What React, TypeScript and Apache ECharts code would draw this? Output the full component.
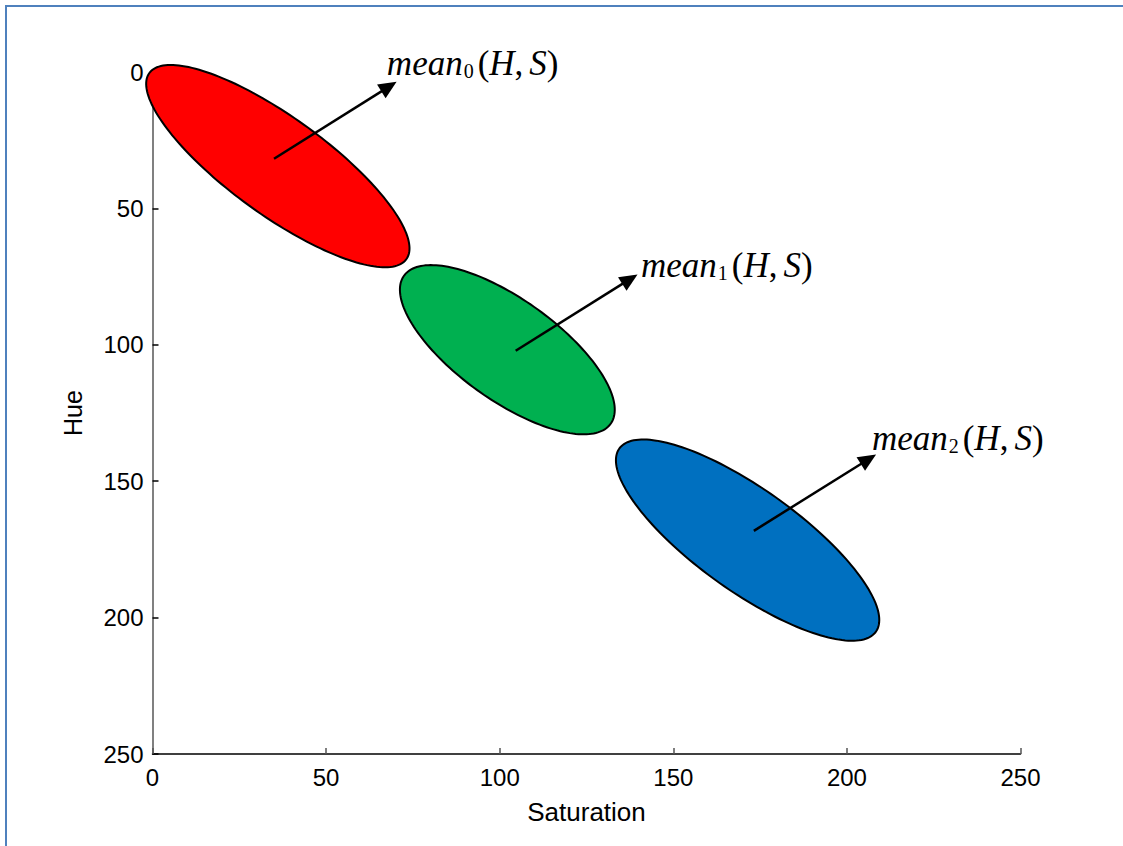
import React, { useEffect, useRef } from "react";
import * as echarts from "echarts";

// Saturation / Hue tick values
const satTicks = [0, 50, 100, 150, 200, 250];
const hueTicks = [0, 50, 100, 150, 200, 250];

// Cluster ellipses (data units: S = saturation, H = hue)
const clusterSub = ["0", "1", "2"];
const clusterColor = ["#FF0000", "#00B050", "#0070C0"];
const meanS = [36.1, 102.2, 171.4];
const meanH = [34.5, 101.8, 171.6];
const majorSemi = [50.5, 40.5, 50.1];
const minorSemi = [16.2, 16.7, 17.0];
const tiltDeg = [44.2, 45.1, 44.0];

// Arrows from each mean to its label
const arrowTailS = [35.0, 104.6, 173.2];
const arrowTailH = [31.8, 102.2, 168.2];
const arrowTipS = [70.3, 139.7, 208.4];
const arrowTipH = [3.6, 74.2, 140.2];
const labelS = [67.5, 140.7, 207.2];
const labelH = [-4.0, 70.1, 133.6];

export default function App() {
  const ref = useRef<HTMLDivElement>(null);
  useEffect(() => {
    if (!ref.current) return;
    const chart = echarts.init(ref.current, null, { renderer: "svg" });
    const data = meanS.map((s, i) => [
      s, meanH[i], majorSemi[i], minorSemi[i], tiltDeg[i],
      arrowTailS[i], arrowTailH[i], arrowTipS[i], arrowTipH[i],
      labelS[i], labelH[i], i,
    ]);
    const serif = "Liberation Serif";
    const renderItem = (params: any, api: any) => {
      const cx = api.value(0), cy = api.value(1);
      const a = api.value(2), b = api.value(3);
      const phi = (api.value(4) * Math.PI) / 180;
      const idx = api.value(11);
      const pts: number[][] = [];
      const N = 180;
      for (let k = 0; k < N; k++) {
        const t = (2 * Math.PI * k) / N;
        const x = cx + a * Math.cos(t) * Math.cos(phi) - b * Math.sin(t) * Math.sin(phi);
        const y = cy + a * Math.cos(t) * Math.sin(phi) + b * Math.sin(t) * Math.cos(phi);
        pts.push(api.coord([x, y]));
      }
      const tail = api.coord([api.value(5), api.value(6)]);
      const tip = api.coord([api.value(7), api.value(8)]);
      const dx = tip[0] - tail[0], dy = tip[1] - tail[1];
      const len = Math.sqrt(dx * dx + dy * dy);
      const ux = dx / len, uy = dy / len;
      const L = 18, W = 8;
      const bx = tip[0] - ux * L, by = tip[1] - uy * L;
      const lab = api.coord([api.value(9), api.value(10)]);
      const it = { fontFamily: serif, fontStyle: "italic", fontSize: 35, lineHeight: 40, verticalAlign: "bottom", fill: "#000" };
      const up = { fontFamily: serif, fontStyle: "normal", fontSize: 35, lineHeight: 40, verticalAlign: "bottom", fill: "#000" };
      return {
        type: "group",
        children: [
          {
            type: "polygon",
            shape: { points: pts },
            style: { fill: clusterColor[idx], stroke: "#000", lineWidth: 2 },
          },
          {
            type: "line",
            shape: { x1: tail[0], y1: tail[1], x2: bx + ux * 2, y2: by + uy * 2 },
            style: { stroke: "#000", lineWidth: 2.5 },
          },
          {
            type: "polygon",
            shape: {
              points: [
                [tip[0], tip[1]],
                [bx - uy * W, by + ux * W],
                [bx + uy * W, by - ux * W],
              ],
            },
            style: { fill: "#000" },
          },
          {
            type: "text",
            x: lab[0],
            y: lab[1],
            style: {
              text: `{i|mean}{s|${clusterSub[idx]}}{p|(}{i|H}{p|,}{j|S}{p|)}`,
              textAlign: "left",
              textVerticalAlign: "middle",
              fill: "#000",
              rich: {
                i: it,
                j: { ...it, padding: [0, 0, 0, 6] },
                p: up,
                s: {
                  fontFamily: serif,
                  fontSize: 20,
                  lineHeight: 23,
                  verticalAlign: "bottom",
                  fill: "#000",
                  padding: [0, 4, 0, 1],
                },
              },
            },
          },
        ],
      };
    };
    chart.setOption({
      animation: false,
      backgroundColor: "#fff",
      textStyle: { fontFamily: "Liberation Sans" },
      graphic: [
        {
          type: "rect",
          shape: { x: 6, y: 6, width: 1300, height: 1000 },
          style: { fill: "none", stroke: "#4F81BD", lineWidth: 2 },
          silent: true,
        },
      ],
      grid: { left: 152.5, right: 102.5, top: 72, bottom: 92 },
      xAxis: {
        type: "value",
        min: satTicks[0],
        max: satTicks[satTicks.length - 1],
        interval: 50,
        name: "Saturation",
        nameLocation: "middle",
        nameGap: 45,
        nameTextStyle: { fontSize: 26, color: "#000", fontFamily: "Liberation Sans" },
        axisLine: { onZero: false, lineStyle: { color: "#000", width: 1.5 } },
        axisTick: { inside: true, length: 6, lineStyle: { color: "#555", width: 1.5 } },
        axisLabel: { fontSize: 24, color: "#000", margin: 11, fontFamily: "Liberation Sans" },
        splitLine: { show: false },
      },
      yAxis: {
        type: "value",
        inverse: true,
        min: hueTicks[0],
        max: hueTicks[hueTicks.length - 1],
        interval: 50,
        name: "Hue",
        nameLocation: "middle",
        nameGap: 67,
        nameTextStyle: { fontSize: 25, color: "#000", fontFamily: "Liberation Sans" },
        axisLine: { onZero: false, lineStyle: { color: "#808080", width: 2 } },
        axisTick: { inside: true, length: 6, lineStyle: { color: "#000", width: 1.5 } },
        axisLabel: { fontSize: 24, color: "#000", margin: 9, fontFamily: "Liberation Sans" },
        splitLine: { show: false },
      },
      series: [
        {
          type: "custom",
          clip: false,
          renderItem,
          data,
          encode: { x: 0, y: 1 },
          z: 5,
        },
      ],
    });
    return () => chart.dispose();
  }, []);
  return (
    <div
      ref={ref}
      style={{ position: "fixed", left: 0, top: 0, width: 1123, height: 846 }}
    />
  );
}
